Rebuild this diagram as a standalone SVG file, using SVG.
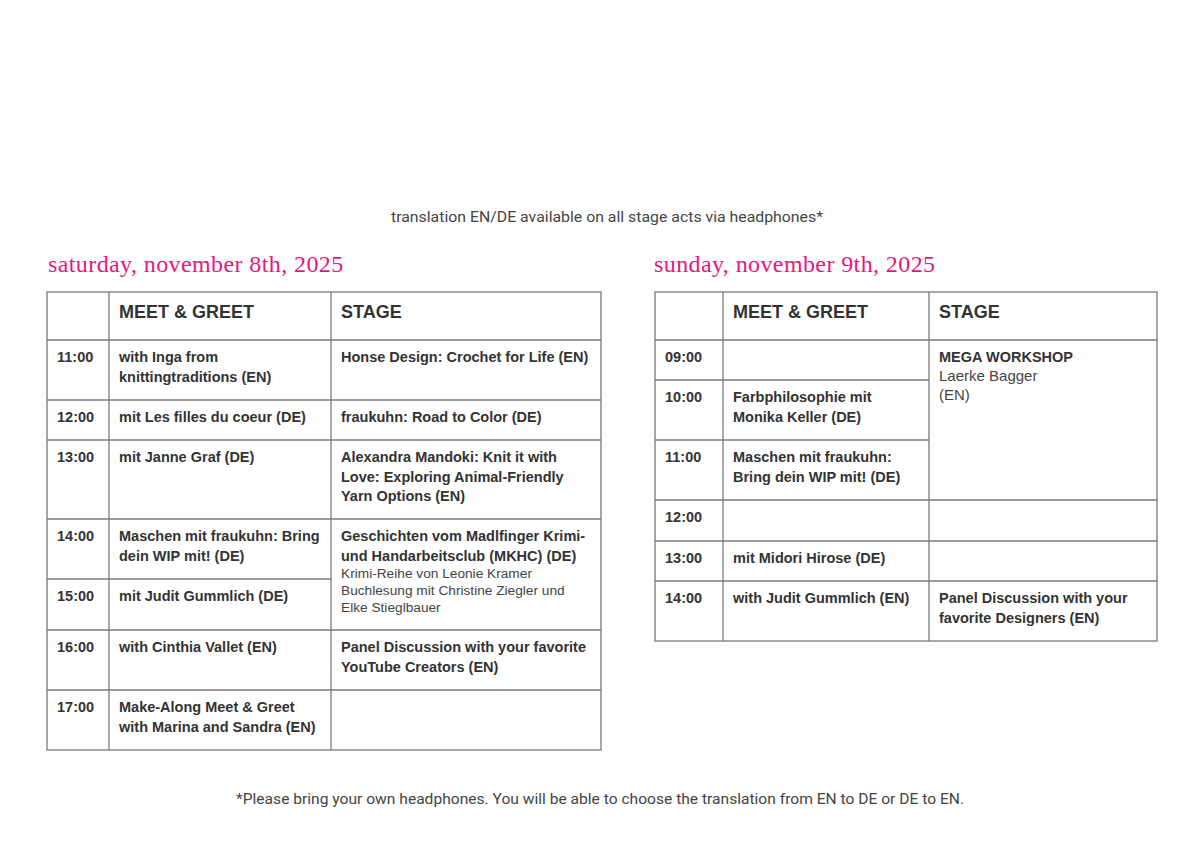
<svg xmlns="http://www.w3.org/2000/svg" width="1200" height="849" viewBox="0 0 1200 849">
<style>
.t{font-family:"Liberation Sans",Arial,sans-serif;font-weight:bold;font-size:14.5px;fill:#333}
.h{font-family:"Liberation Sans",Arial,sans-serif;font-weight:bold;font-size:18px;fill:#333}
.s{font-family:"Liberation Sans",Arial,sans-serif;font-size:13.7px;fill:#444}
.n{font-family:Roboto,"Liberation Sans",sans-serif;font-size:15.5px;fill:#444}
.ttl{font-family:"Liberation Serif","DejaVu Serif",serif;font-size:24px;fill:#e5177e;letter-spacing:0.4px}
.g{stroke:#7a7a7a;stroke-width:1.3;fill:none}
</style>
<rect width="1200" height="849" fill="#fff"/>
<text class="n" x="391" y="222" textLength="432" lengthAdjust="spacingAndGlyphs">translation EN/DE available on all stage acts via headphones*</text>
<text class="ttl" x="48" y="272">saturday, november 8th, 2025</text>
<text class="ttl" x="654" y="272">sunday, november 9th, 2025</text>

<g id="grid-sat" class="g">
<rect x="47" y="292" width="554" height="458"/>
<line x1="109" y1="292" x2="109" y2="750"/>
<line x1="331" y1="292" x2="331" y2="750"/>
<line x1="47" y1="340" x2="601" y2="340"/>
<line x1="47" y1="400" x2="601" y2="400"/>
<line x1="47" y1="440" x2="601" y2="440"/>
<line x1="47" y1="519" x2="601" y2="519"/>
<line x1="47" y1="579" x2="331" y2="579"/>
<line x1="47" y1="630" x2="601" y2="630"/>
<line x1="47" y1="690" x2="601" y2="690"/>
</g>
<g id="grid-sun" class="g">
<rect x="655" y="292" width="502" height="349"/>
<line x1="723" y1="292" x2="723" y2="641"/>
<line x1="929" y1="292" x2="929" y2="641"/>
<line x1="655" y1="340" x2="1157" y2="340"/>
<line x1="655" y1="380" x2="929" y2="380"/>
<line x1="655" y1="440" x2="929" y2="440"/>
<line x1="655" y1="500" x2="1157" y2="500"/>
<line x1="655" y1="541" x2="1157" y2="541"/>
<line x1="655" y1="581" x2="1157" y2="581"/>
</g>

<g id="sat-header">
<text class="h" x="119" y="318">MEET &amp; GREET</text>
<text class="h" x="341" y="318">STAGE</text>
</g>
<g id="sat-1100">
<text class="t" x="57" y="362">11:00</text>
<text class="t" x="119" y="362">with Inga from</text>
<text class="t" x="119" y="381.5">knittingtraditions (EN)</text>
<text class="t" x="341" y="362">Honse Design: Crochet for Life (EN)</text>
</g>
<g id="sat-1200">
<text class="t" x="57" y="422">12:00</text>
<text class="t" x="119" y="422">mit Les filles du coeur (DE)</text>
<text class="t" x="341" y="422">fraukuhn: Road to Color (DE)</text>
</g>
<g id="sat-1300">
<text class="t" x="57" y="462">13:00</text>
<text class="t" x="119" y="462">mit Janne Graf (DE)</text>
<text class="t" x="341" y="462">Alexandra Mandoki: Knit it with</text>
<text class="t" x="341" y="481.5">Love: Exploring Animal-Friendly</text>
<text class="t" x="341" y="501">Yarn Options (EN)</text>
</g>
<g id="sat-1400">
<text class="t" x="57" y="541">14:00</text>
<text class="t" x="119" y="541">Maschen mit fraukuhn: Bring</text>
<text class="t" x="119" y="560.5">dein WIP mit! (DE)</text>
<text class="t" x="341" y="541">Geschichten vom Madlfinger Krimi-</text>
<text class="t" x="341" y="560.5">und Handarbeitsclub (MKHC) (DE)</text>
<text class="s" x="341" y="578">Krimi-Reihe von Leonie Kramer</text>
<text class="s" x="341" y="595">Buchlesung mit Christine Ziegler und</text>
<text class="s" x="341" y="612">Elke Stieglbauer</text>
</g>
<g id="sat-1500">
<text class="t" x="57" y="601">15:00</text>
<text class="t" x="119" y="601">mit Judit Gummlich (DE)</text>
</g>
<g id="sat-1600">
<text class="t" x="57" y="652">16:00</text>
<text class="t" x="119" y="652">with Cinthia Vallet (EN)</text>
<text class="t" x="341" y="652">Panel Discussion with your favorite</text>
<text class="t" x="341" y="671.5">YouTube Creators (EN)</text>
</g>
<g id="sat-1700">
<text class="t" x="57" y="712">17:00</text>
<text class="t" x="119" y="712">Make-Along Meet &amp; Greet</text>
<text class="t" x="119" y="731.5">with Marina and Sandra (EN)</text>
</g>

<g id="sun-header">
<text class="h" x="733" y="318">MEET &amp; GREET</text>
<text class="h" x="939" y="318">STAGE</text>
</g>
<g id="sun-0900">
<text class="t" x="665" y="362">09:00</text>
<text class="t" x="939" y="362">MEGA WORKSHOP</text>
<text class="s" x="939" y="381" style="font-size:15px">Laerke Bagger</text>
<text class="s" x="939" y="400" style="font-size:15px">(EN)</text>
</g>
<g id="sun-1000">
<text class="t" x="665" y="402">10:00</text>
<text class="t" x="733" y="402">Farbphilosophie mit</text>
<text class="t" x="733" y="421.5">Monika Keller (DE)</text>
</g>
<g id="sun-1100">
<text class="t" x="665" y="462">11:00</text>
<text class="t" x="733" y="462">Maschen mit fraukuhn:</text>
<text class="t" x="733" y="481.5">Bring dein WIP mit! (DE)</text>
</g>
<g id="sun-1200">
<text class="t" x="665" y="522">12:00</text>
</g>
<g id="sun-1300">
<text class="t" x="665" y="563">13:00</text>
<text class="t" x="733" y="563">mit Midori Hirose (DE)</text>
</g>
<g id="sun-1400">
<text class="t" x="665" y="603">14:00</text>
<text class="t" x="733" y="603">with Judit Gummlich (EN)</text>
<text class="t" x="939" y="603">Panel Discussion with your</text>
<text class="t" x="939" y="622.5">favorite Designers (EN)</text>
</g>

<text class="n" x="236" y="804" textLength="728" lengthAdjust="spacingAndGlyphs">*Please bring your own headphones. You will be able to choose the translation from EN to DE or DE to EN.</text>
</svg>
